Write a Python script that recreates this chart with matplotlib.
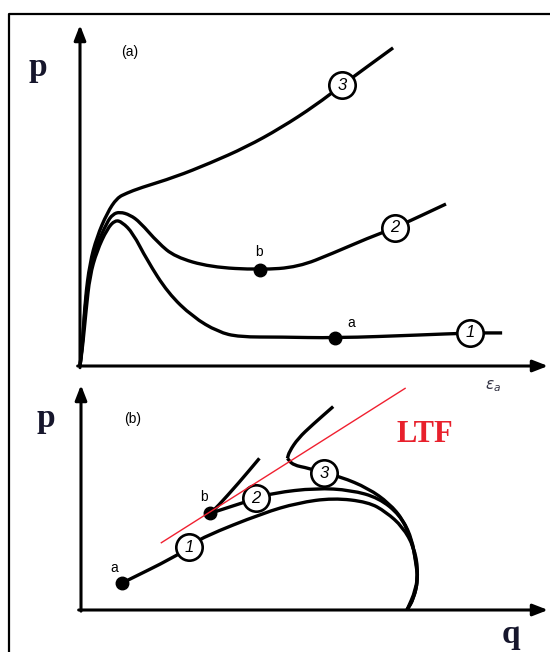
import matplotlib.pyplot as plt
from matplotlib.lines import Line2D
from matplotlib.path import Path
from matplotlib.patches import PathPatch

# (a) mean stress p against axial strain, three undrained paths
c1_eps = [0, 0.06, 0.13, 0.21, 0.36, 0.58, 0.75, 0.90, 1.13, 1.43, 1.88, 2.41, 2.95, 3.40, 4.29, 5.45, 7.29, 8.33, 9.02]
c1_p = [0, 0.62, 1.64, 2.64, 3.37, 4.02, 4.28, 4.22, 3.90, 3.11, 2.14, 1.44, 1.00, 0.85, 0.85, 0.82, 0.91, 0.97, 0.97]
c2_eps = [0, 0.06, 0.11, 0.21, 0.36, 0.58, 0.70, 0.85, 1.07, 1.28, 1.67, 2.03, 2.78, 3.85, 4.66, 5.41, 6.15, 6.73, 7.82]
c2_p = [0, 0.76, 1.79, 2.81, 3.55, 4.22, 4.45, 4.52, 4.43, 4.22, 3.61, 3.20, 2.90, 2.82, 2.90, 3.31, 3.75, 4.05, 4.75]
c3_eps = [0, 0.06, 0.11, 0.21, 0.36, 0.58, 0.79, 1.00, 1.28, 2.03, 2.78, 3.55, 4.29, 5.04, 5.60, 6.69]
c3_p = [0, 0.76, 1.94, 3.02, 3.78, 4.49, 4.93, 5.07, 5.22, 5.54, 5.95, 6.42, 6.98, 7.65, 8.24, 9.33]
a_idx_top, b_idx_top = 15, 13          # point a on path 1, point b on path 2
tag_idx_top = [17, 17, 14]             # where the circled numbers sit

# (b) stress paths in the q-p plane
s1_q = [0.88, 2.01, 2.31, 2.61, 3.90, 4.64, 5.40, 6.15, 6.53, 6.89, 7.13, 7.22, 7.17, 6.98]
s1_p = [1.20, 2.36, 2.80, 3.24, 4.31, 4.76, 4.98, 4.80, 4.36, 3.69, 2.80, 1.78, 0.89, 0.0]
s2_q = [2.77, 3.75, 4.12, 5.03, 5.78, 6.38, 6.83, 7.04, 7.16, 7.22, 7.13, 6.98]
s2_p = [4.30, 4.96, 5.20, 5.42, 5.33, 4.98, 4.22, 3.33, 2.37, 1.42, 0.53, 0.0]
s3_q = [4.42, 4.54, 4.88, 5.21, 5.55, 6.15, 6.60, 6.90, 7.09, 7.16, 7.22, 7.11, 6.98]
s3_p = [6.74, 6.44, 6.30, 6.07, 5.93, 5.41, 4.74, 4.00, 3.11, 2.22, 1.33, 0.44, 0.0]
# branches leaving the paths after the instability line is crossed
br2_q = [2.77, 2.92, 3.37, 3.82]
br2_p = [4.30, 4.59, 5.63, 6.74]
br3_q = [4.42, 4.46, 4.65, 4.95, 5.40]
br3_p = [6.74, 7.04, 7.63, 8.22, 9.04]
ltf_q = [1.72, 6.94]
ltf_p = [2.99, 9.85]
tag_idx_bot = [2, 1, 3]

W, H = 550, 652
fig = plt.figure(figsize=(W / 100, H / 100), dpi=100)
fig.patch.set_facecolor('white')

# frame around the figure
fig.add_artist(Line2D([9 / W, 9 / W, 1.0], [0.0, 1 - 14 / H, 1 - 14 / H],
                      transform=fig.transFigure, color='black', lw=1.6))

ax1 = fig.add_axes([80 / W, 1 - 366 / H, 468 / W, 341 / H])
ax2 = fig.add_axes([81 / W, 1 - 610 / H, 467 / W, 225 / H])

serif = ['Liberation Serif', 'DejaVu Serif']
sans = ['Liberation Sans', 'DejaVu Sans']
ink = '#16162c'
lw = 2.4

for ax in (ax1, ax2):
    ax.set_xlim(0, 10)
    ax.set_ylim(0, 10)
    ax.axis('off')
    arrow = dict(arrowstyle='-|>,head_length=0.9,head_width=0.35', color='black',
                 lw=2.2, shrinkA=0, shrinkB=0)
    ax.annotate('', xy=(10, 0), xytext=(-0.05, 0), arrowprops=arrow, annotation_clip=False)
    ax.annotate('', xy=(0, 10), xytext=(0, -0.05), arrowprops=arrow, annotation_clip=False)


def smooth(ax, xs, ys):
    # quadratic bezier through the midpoints, using the read points as controls
    pts = list(zip(xs, ys))
    verts = [pts[0]]
    codes = [Path.MOVETO]
    if len(pts) > 2:
        verts.append(((pts[0][0] + pts[1][0]) / 2, (pts[0][1] + pts[1][1]) / 2))
        codes.append(Path.LINETO)
        for i in range(1, len(pts) - 1):
            mid = ((pts[i][0] + pts[i + 1][0]) / 2, (pts[i][1] + pts[i + 1][1]) / 2)
            verts += [pts[i], mid]
            codes += [Path.CURVE3, Path.CURVE3]
    verts.append(pts[-1])
    codes.append(Path.LINETO)
    ax.add_patch(PathPatch(Path(verts, codes), fill=False, lw=lw, ec='black',
                           joinstyle='round', capstyle='butt', clip_on=False))


def tag(ax, x, y, s):
    ax.plot(x, y, 'o', ms=19, mfc='white', mec='black', mew=1.9, zorder=5, clip_on=False)
    ax.text(x, y, s, ha='center', va='center', fontsize=12, family=sans,
            fontstyle='italic', zorder=6)


# panel (a)
for i, (xs, ys) in enumerate([(c1_eps, c1_p), (c2_eps, c2_p), (c3_eps, c3_p)]):
    smooth(ax1, xs, ys)
    k = tag_idx_top[i]
    tag(ax1, xs[k], ys[k], str(i + 1))
ax1.plot(c1_eps[a_idx_top], c1_p[a_idx_top], 'o', color='black', ms=9, zorder=4)
ax1.plot(c2_eps[b_idx_top], c2_p[b_idx_top], 'o', color='black', ms=9, zorder=4)
ax1.text(5.79, 1.26, 'a', fontsize=10, family=sans, ha='center', va='center')
ax1.text(3.82, 3.34, 'b', fontsize=10, family=sans, ha='center', va='center')
ax1.text(1.07, 9.21, '(a)', fontsize=10, family=sans, ha='center', va='center')
ax1.text(-0.90, 8.74, 'p', fontsize=24, family=serif, weight='bold', color=ink,
         ha='center', va='center')
ax1.text(8.83, -0.58, r'$\varepsilon_a$', fontsize=11, color='#333344',
         ha='center', va='center')

# panel (b)
for xs, ys in [(br2_q, br2_p), (br3_q, br3_p)]:
    smooth(ax2, xs, ys)
for i, (xs, ys) in enumerate([(s1_q, s1_p), (s2_q, s2_p), (s3_q, s3_p)]):
    smooth(ax2, xs, ys)
    k = tag_idx_bot[i]
    tag(ax2, xs[k], ys[k], str(i + 1))
ax2.plot(ltf_q, ltf_p, color='#f02030', lw=1.0, zorder=7)
ax2.plot(s1_q[0], s1_p[0], 'o', color='black', ms=9, zorder=4)
ax2.plot(s2_q[0], s2_p[0], 'o', color='black', ms=9, zorder=4)
ax2.text(0.71, 1.87, 'a', fontsize=10, family=sans, ha='center', va='center')
ax2.text(2.63, 5.02, 'b', fontsize=10, family=sans, ha='center', va='center')
ax2.text(1.11, 8.49, '(b)', fontsize=10, family=sans, ha='center', va='center')
ax2.text(-0.75, 8.53, 'p', fontsize=24, family=serif, weight='bold', color=ink,
         ha='center', va='center')
ax2.text(9.20, -1.11, 'q', fontsize=24, family=serif, weight='bold', color=ink,
         ha='center', va='center')
ax2.text(7.37, 7.78, 'LTF', fontsize=22, family=serif, weight='bold', color='#e8202c',
         ha='center', va='center')

fig.savefig('out.png', dpi=100)
